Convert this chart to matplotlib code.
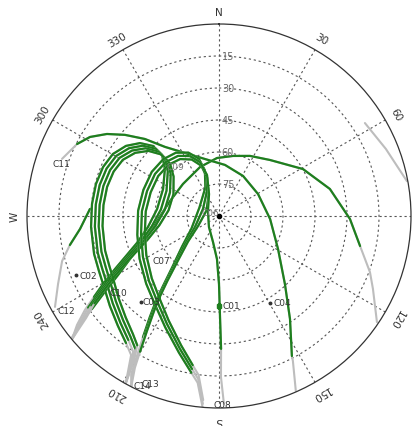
import numpy as np
import matplotlib
matplotlib.use("Agg")
import matplotlib.pyplot as plt
from matplotlib.transforms import ScaledTranslation

GREEN = "#1e7f1e"
GRAY = "#bdbdbd"
GRID = "#555555"
MASK_EL = 15  # below this elevation a track is drawn gray

# satellite tracks: azimuth (deg, clockwise from N), elevation (deg)
t1_az = [57.5, 68.1, 79.5]
t1_el = [8.9, 5.7, 0.4]

t2_az = [123.9, 115.4, 110.4, 102.0, 91.3, 76.3, 60.8, 42.3, 27.3, 13.1, 358.0, 338.8, 311.6,
         287.0, 265.4, 253.9, 245.6, 239.7, 236.2, 233.8, 232.5, 230.5]
t2_el = [0.8, 10.1, 14.5, 22.4, 28.6, 36.5, 44.9, 54.5, 58.3, 61.1, 62.8, 65.4, 67.4,
         66.0, 60.8, 54.4, 45.7, 35.2, 25.1, 16.2, 9.1, 0.8]

c11_az = [290.0, 296.9, 301.5, 306.2, 310.8, 316.1, 322.0, 331.6, 346.2, 6.7, 31.0, 60.6,
          93.4, 119.2, 135.9, 145.4, 152.5, 153.0, 156.3]
c11_el = [11.7, 15.4, 19.1, 24.9, 31.8, 39.9, 48.9, 56.4, 62.5, 65.9, 68.1, 69.0,
          66.0, 58.3, 45.6, 31.4, 16.0, 13.7, 0.4]

c12_az = [241.0, 247.1, 254.0, 259.0, 264.7, 273.1]
c12_el = [2.1, 8.1, 13.5, 18.8, 24.6, 29.4]

# IGSO loop, west side (four satellites)
loop1_az = [230.0, 232.5, 235.0, 237.1, 239.6, 243.0, 246.7, 251.8, 261.2, 276.4, 295.7, 311.0,
            317.0, 316.7, 312.7, 307.0, 300.3, 292.9, 284.6, 275.4, 265.1, 253.1, 245.4, 239.6,
            230.5, 222.6, 216.2, 212.3, 210.4, 209.1]
c09_el = [0.0, 6.1, 13.3, 20.2, 27.0, 35.3, 42.5, 49.5, 56.3, 60.8, 60.9, 56.4, 50.9, 44.9,
          39.6, 35.4, 32.4, 31.0, 30.4, 30.2, 29.8, 28.8, 28.1, 27.0, 23.7, 20.0, 16.2, 12.9,
          5.8, 0.0]
c10_el = [0.0, 7.9, 15.1, 22.0, 28.8, 37.1, 44.3, 51.3, 58.1, 62.6, 62.7, 58.2, 52.7, 46.7,
          41.4, 37.2, 34.2, 32.8, 32.2, 32.0, 31.6, 30.6, 29.9, 28.8, 25.5, 21.8, 18.0, 14.7,
          7.6, 0.0]
c13_el = [0.0, 9.7, 16.9, 23.8, 30.6, 38.9, 46.1, 53.1, 59.9, 64.4, 64.5, 60.0, 54.5, 48.5,
          43.2, 39.0, 36.0, 34.6, 34.0, 33.8, 33.4, 32.4, 31.7, 30.6, 27.3, 23.6, 19.8, 16.5,
          9.4, 0.0]
c14_el = [0.0, 11.5, 18.7, 25.6, 32.4, 40.7, 47.9, 54.9, 61.7, 66.2, 66.3, 61.8, 56.3, 50.3,
          45.0, 40.8, 37.8, 36.4, 35.8, 35.6, 35.2, 34.2, 33.5, 32.4, 29.1, 25.4, 21.6, 18.3,
          11.2, 0.0]

# IGSO loop, near zenith (three satellites)
loop2_az = [207.2, 209.0, 210.2, 212.1, 214.4, 216.1, 218.5, 222.5, 230.5, 245.4, 293.6, 334.4,
            342.8, 340.6, 334.2, 325.7, 315.5, 303.3, 289.1, 273.7, 257.0, 241.7, 227.1, 216.1,
            205.7, 196.3, 190.0, 187.3, 184.9]
c06_el = [0.0, 5.1, 12.8, 22.9, 32.6, 38.9, 47.5, 57.7, 67.6, 75.8, 80.0, 75.2, 67.6, 61.4,
          57.0, 54.1, 52.7, 52.3, 52.5, 52.0, 50.7, 47.7, 43.4, 38.9, 32.0, 23.2, 15.4, 11.2, 0.0]
c07_el = [0.0, 6.9, 14.6, 24.7, 34.4, 40.7, 49.3, 59.5, 69.4, 77.6, 81.8, 77.0, 69.4, 63.2,
          58.8, 55.9, 54.5, 54.1, 54.3, 53.8, 52.5, 49.5, 45.2, 40.7, 33.8, 25.0, 17.2, 13.0, 1.6]
c16_el = [0.0, 8.7, 16.4, 26.5, 36.2, 42.5, 51.1, 61.3, 71.2, 79.4, 83.6, 78.8, 71.2, 65.0,
          60.6, 57.7, 56.3, 55.9, 56.1, 55.6, 54.3, 51.3, 47.0, 42.5, 35.6, 26.8, 19.0, 14.8, 3.4]

c08_az = [334.2, 340.6, 343.7, 335.6, 294.4, 222.3, 193.0, 182.7, 180.0, 179.4, 179.1, 179.3, 178.5]
c08_el = [58.8, 63.2, 70.0, 78.7, 84.3, 83.0, 77.5, 69.8, 58.1, 41.7, 27.7, 14.5, 1.9]

tracks = [
    (t1_az, t1_el), (t2_az, t2_el), (c11_az, c11_el), (c12_az, c12_el),
    (loop1_az, c09_el), (loop1_az, c10_el), (loop1_az, c13_el), (loop1_az, c14_el),
    (loop2_az, c06_el), (loop2_az, c07_el), (loop2_az, c16_el), (c08_az, c08_el),
]

# GEO satellites (fixed points)
geo_az = [180.0, 247.6, 222.2, 149.6]
geo_el = [47.8, 17.5, 35.6, 42.7]

# satellite labels (left edge of text)
lab_names = ["C11", "C12", "C02", "C10", "C07", "C03", "C01", "C04", "C08", "C14", "C13",
             "C09", "C06"]
lab_az = [287.7, 239.5, 247.1, 235.1, 236.1, 221.5, 177.5, 147.7, 181.8, 206.6, 205.0, 313.3, 280.0]
lab_el = [8.3, 2.4, 18.8, 27.7, 52.2, 36.2, 47.8, 41.8, 1.8, 0.9, 3.6, 56.5, 81.9]

fig = plt.figure(figsize=(4.2, 4.27), dpi=100)
ax = fig.add_axes([27 / 420, 18 / 427, 384 / 420, 384 / 427], projection="polar")
ax.set_theta_zero_location("N")
ax.set_theta_direction(-1)
ax.set_ylim(0, 90)
ax.set_yticks([15, 30, 45, 60, 75])
ax.set_yticklabels([])
ax.set_xticks(np.radians(np.arange(0, 360, 30)))
ax.set_xticklabels([])
ax.grid(True, color=GRID, linestyle=(0, (2, 2.5)), linewidth=0.8)
ax.spines["polar"].set_color("#333333")
ax.spines["polar"].set_linewidth(0.9)

for az, el in tracks:
    el = np.array(el)
    th = np.radians(az)
    r = 90 - el
    ax.plot(th, r, color=GRAY, lw=1.5, solid_capstyle="round")
    ax.plot(th, np.where(el >= MASK_EL, r, np.nan), color=GREEN, lw=1.6,
            solid_capstyle="round")

ax.plot(np.radians(geo_az[1:]), 90 - np.array(geo_el[1:]), "o", color="#333333", ms=1.8)
ax.plot(np.radians(geo_az[0]), 90 - geo_el[0], "s", color=GREEN, ms=3.5)
ax.plot(0, 0, "o", color="black", ms=3)

for name, az, el in zip(lab_names, lab_az, lab_el):
    c = "#777777" if name in ("C09", "C06") else "#333333"
    ax.text(np.radians(az), 90 - el, name, fontsize=6.5, color=c,
            ha="left", va="center", clip_on=False)

# elevation labels along the north line
off = ScaledTranslation(0.09, 0, fig.dpi_scale_trans)
for el in [15, 30, 45, 60, 75]:
    ax.text(0, 90 - el, str(el), fontsize=7, color="#666666",
            ha="center", va="center", transform=ax.transData + off)

# azimuth labels, rotated along the rim
names = {0: "N", 90: "E", 180: "S", 270: "W"}
for az in range(0, 360, 30):
    ax.text(np.radians(az), 95.8, names.get(az, str(az)), fontsize=7.5,
            color="#333333", ha="center", va="center",
            rotation=-az, rotation_mode="anchor", clip_on=False)

fig.savefig("out.png", dpi=100)
